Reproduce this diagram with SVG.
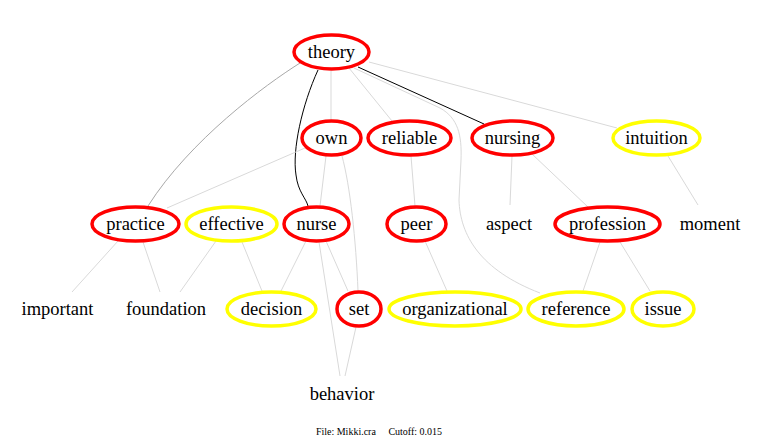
<svg xmlns="http://www.w3.org/2000/svg" width="759" height="447" viewBox="0 0 759 447">
<style>
.e{fill:none;stroke:#d9d9d9;stroke-width:1}
.d{fill:none;stroke:#000;stroke-width:1}
.m{fill:none;stroke:#a8a8a8;stroke-width:1}
.r{fill:#fff;stroke:#ff0000;stroke-width:3.5}
.y{fill:#fff;stroke:#ffff00;stroke-width:3.5}
text{font-family:'Liberation Serif','Times New Roman','DejaVu Serif',serif;font-size:18.5px;text-anchor:middle;fill:#000}
.f{font-size:10px}
</style>
<rect width="759" height="447" fill="#fff"/>
<g id="edges">
<path class="m" d="M300,63 C265,85 190,140 148,206"/>
<path class="d" d="M318,70 C302,105 292,150 296,175 C298,192 306,198 308,206"/>
<path class="e" d="M331,71 L331,120"/>
<path class="e" d="M349,68 L392,121"/>
<path class="d" d="M358,67 L484,124"/>
<path class="e" d="M369,62 L617,128"/>
<path class="e" d="M354,68 L440,108 C458,118 462,135 461,160 L459,200 C460,235 480,270 540,293"/>
<path class="e" d="M305,148 L167,208"/>
<path class="e" d="M326,156 L320,206"/>
<path class="e" d="M342,156 C350,185 356,240 358,291"/>
<path class="e" d="M411,156 L415,206"/>
<path class="e" d="M512,156 L510,205"/>
<path class="e" d="M532,154 L588,207"/>
<path class="e" d="M668,156 L698,205"/>
<path class="e" d="M118,241 L72,292"/>
<path class="e" d="M143,242 L160,292"/>
<path class="e" d="M216,241 L180,292"/>
<path class="e" d="M242,242 L262,291"/>
<path class="e" d="M306,241 L281,291"/>
<path class="e" d="M326,241 L348,291"/>
<path class="e" d="M319,242 L340,376"/>
<path class="e" d="M356,327 L345,376"/>
<path class="e" d="M425,241 L447,291"/>
<path class="e" d="M600,242 L583,291"/>
<path class="e" d="M620,242 L650,291"/>
</g>
<g id="theory"><ellipse class="r" cx="331.5" cy="52" rx="37.5" ry="17"/><text x="331.5" y="58">theory</text></g>
<g id="own"><ellipse class="r" cx="331.5" cy="138" rx="29.5" ry="17"/><text x="331.5" y="144">own</text></g>
<g id="reliable"><ellipse class="r" cx="409.5" cy="138" rx="41.5" ry="17"/><text x="409.5" y="144">reliable</text></g>
<g id="nursing"><ellipse class="r" cx="512.5" cy="138" rx="40.5" ry="17"/><text x="512.5" y="144">nursing</text></g>
<g id="intuition"><ellipse class="y" cx="656.5" cy="138" rx="43.5" ry="17"/><text x="656.5" y="144">intuition</text></g>
<g id="practice"><ellipse class="r" cx="135.5" cy="224" rx="43.5" ry="17"/><text x="135.5" y="230">practice</text></g>
<g id="effective"><ellipse class="y" cx="231.5" cy="224" rx="45.5" ry="17"/><text x="231.5" y="230">effective</text></g>
<g id="nurse"><ellipse class="r" cx="316.5" cy="224" rx="32.5" ry="17"/><text x="316.5" y="230">nurse</text></g>
<g id="peer"><ellipse class="r" cx="416.5" cy="224" rx="29.5" ry="17"/><text x="416.5" y="230">peer</text></g>
<g id="aspect"><text x="509" y="230">aspect</text></g>
<g id="profession"><ellipse class="r" cx="607.5" cy="224" rx="52.5" ry="17"/><text x="607.5" y="230">profession</text></g>
<g id="moment"><text x="710" y="230">moment</text></g>
<g id="important"><text x="57.5" y="315">important</text></g>
<g id="foundation"><text x="166" y="315">foundation</text></g>
<g id="decision"><ellipse class="y" cx="271.5" cy="309" rx="44.5" ry="17"/><text x="271.5" y="315">decision</text></g>
<g id="set"><ellipse class="r" cx="359" cy="309" rx="22" ry="17"/><text x="359" y="315">set</text></g>
<g id="organizational"><ellipse class="y" cx="455" cy="309" rx="66" ry="17"/><text x="455" y="315">organizational</text></g>
<g id="reference"><ellipse class="y" cx="576" cy="309" rx="48" ry="17"/><text x="576" y="315">reference</text></g>
<g id="issue"><ellipse class="y" cx="663" cy="309" rx="31" ry="17"/><text x="663" y="315">issue</text></g>
<g id="behavior"><text x="342" y="400">behavior</text></g>
<text class="f" x="379" y="435" xml:space="preserve">File: Mikki.cra     Cutoff: 0.015</text>
</svg>
